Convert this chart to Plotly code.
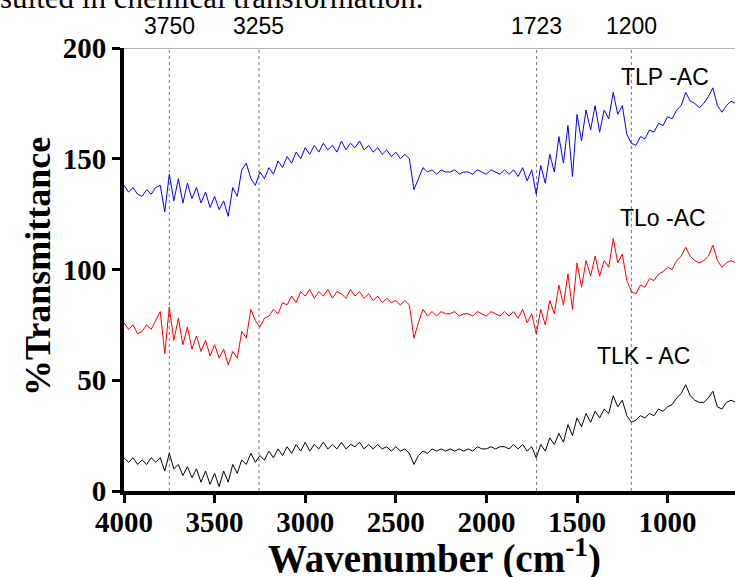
import plotly.graph_objects as go

# Wavenumber grid (cm-1), sampled every 25 cm-1 from 4000 down to 625
WAVENUMBER = list(range(4000, 620, -25))

TLP_AC = [
    138, 135, 137, 134,
    133, 136, 134, 137,
    138, 126, 143, 131,
    141, 130, 139, 132,
    137, 130, 135, 128,
    133, 127, 131, 124,
    137, 133, 145, 148,
    141, 138, 144, 141,
    146, 143, 149, 146,
    151, 148, 153, 150,
    155, 152, 156, 153,
    157, 154, 156, 153,
    158, 154, 157, 155,
    158, 154, 156, 153,
    155, 152, 154, 151,
    153, 150, 152, 150,
    136, 141, 146, 144,
    145, 143, 145, 144,
    144, 145, 143, 144,
    144, 143, 145, 144,
    143, 145, 144, 143,
    145, 143, 145, 142,
    146, 140, 145, 134,
    147, 139, 152, 144,
    160, 148, 165, 142,
    170, 158, 172, 163,
    174, 162, 172, 168,
    180, 170, 174, 161,
    157, 156, 160, 159,
    163, 162, 166, 165,
    169, 168, 172, 174,
    180, 176, 175, 173,
    175, 178, 182, 174,
    171, 174, 176, 175,
]

TLO_AC = [
    76, 73, 75, 71,
    72, 75, 73, 77,
    81, 62, 83, 68,
    78, 66, 74, 64,
    70, 63, 68, 61,
    66, 60, 64, 57,
    63, 60, 72, 69,
    82, 77, 74, 78,
    79, 82, 80, 85,
    84, 88, 85, 90,
    88, 91, 87, 90,
    88, 91, 87, 90,
    89, 87, 91, 88,
    90, 87, 89, 86,
    88, 85, 87, 85,
    86, 84, 86, 84,
    69, 76, 82, 79,
    81, 79, 81, 80,
    80, 81, 79, 80,
    80, 79, 81, 80,
    79, 81, 80, 79,
    81, 79, 81, 78,
    82, 76, 80, 71,
    82, 75, 86, 80,
    93, 84, 98, 82,
    103, 92, 104, 97,
    106, 97, 104, 101,
    114, 103, 107, 95,
    90, 89, 93, 92,
    96, 95, 98, 99,
    101, 100, 104, 106,
    110, 106, 104, 103,
    104, 106, 111, 104,
    101, 103, 104, 103,
]

TLK_AC = [
    15, 13, 15, 12,
    14, 12, 15, 13,
    15, 9, 17, 10,
    12, 7, 11, 6,
    10, 4, 9, 3,
    8, 2, 9, 4,
    12, 8, 14, 12,
    17, 13, 16, 14,
    18, 15, 19, 16,
    20, 17, 21, 18,
    22, 18, 21, 19,
    22, 19, 21, 19,
    22, 19, 21, 20,
    22, 19, 21, 19,
    21, 19, 20, 18,
    20, 18, 19, 17,
    12, 16, 18, 17,
    19, 18, 19, 18,
    19, 18, 19, 18,
    19, 18, 20, 19,
    19, 20, 19, 20,
    20, 19, 21, 19,
    21, 18, 20, 15,
    21, 18, 24, 21,
    26, 22, 30, 25,
    33, 29, 35, 31,
    36, 33, 37, 35,
    43, 38, 41, 34,
    31, 32, 34, 33,
    35, 34, 37, 36,
    38, 39, 42, 44,
    48, 43, 41, 40,
    40, 42, 45, 38,
    37, 40, 41, 40,
]

PEAK_MARKERS = [3750, 3255, 1723, 1200]
SERIES_NAMES = ["TLP -AC", "TLo -AC", "TLK - AC"]
X_TICKS = [4000, 3500, 3000, 2500, 2000, 1500, 1000]
Y_TICKS = [0, 50, 100, 150, 200]

SERIF = "Liberation Serif, Times New Roman, serif"
SANS = "Liberation Sans, Arial, sans-serif"

# layout geometry (pixels)
L, R, T, B = 124, 0, 48, 86
W, H = 735, 577
PW, PH = W - L - R, H - T - B


def px_x(px):
    return (px - L) / PW


def px_y(py):
    return (H - B - py) / PH


fig = go.Figure()
for vals, color in [(TLP_AC, "#0000ff"), (TLO_AC, "#ff0000"), (TLK_AC, "#000000")]:
    fig.add_trace(go.Scatter(x=WAVENUMBER, y=vals, mode="lines",
                             line=dict(color=color, width=1), showlegend=False,
                             hoverinfo="skip"))

# dashed reference lines at marked wavenumbers with labels above the frame
for wn in PEAK_MARKERS:
    fig.add_shape(type="line", x0=wn, x1=wn, y0=0, y1=200, xref="x", yref="y",
                  line=dict(color="#777777", width=1, dash="3px,3px"), layer="below")
    fig.add_annotation(x=wn, y=px_y(26), xref="x", yref="paper",
                       xanchor="center", yanchor="middle",
                       text=str(wn), showarrow=False,
                       font=dict(family=SANS, size=23, color="#000000"))

# top frame line
fig.add_shape(type="line", x0=0, x1=1, y0=200, y1=200, xref="paper", yref="y",
              line=dict(color="#999999", width=1.5))

# series labels (pixel centres)
for name, (cx, cy) in zip(SERIES_NAMES, [(665, 77), (663, 218), (643, 356)]):
    fig.add_annotation(x=px_x(cx), y=px_y(cy), xref="paper", yref="paper", text=name,
                       xanchor="center", yanchor="middle", showarrow=False,
                       font=dict(family=SANS, size=23, color="#000000"))

# axis titles
fig.add_annotation(x=px_x(434), y=px_y(556), xref="paper", yref="paper",
                   xanchor="center", yanchor="middle",
                   text="Wavenumber (cm<sup>-1</sup>)", showarrow=False,
                   font=dict(family=SERIF, size=39, color="#000000", weight="bold"))
fig.add_annotation(x=px_x(38), y=px_y(266), xref="paper", yref="paper",
                   xanchor="center", yanchor="middle",
                   text="%Transmittance", showarrow=False, textangle=-90,
                   font=dict(family=SERIF, size=36, color="#000000", weight="bold"))

# cropped caption line from the source document
fig.add_annotation(x=px_x(-2), y=px_y(-2), xref="paper", yref="paper",
                   xanchor="left", yanchor="middle",
                   text="sulted in chemical transformation.", showarrow=False,
                   font=dict(family=SERIF, size=31, color="#000000"))

axis_common = dict(showgrid=False, zeroline=False, automargin=False,
                   showline=True, linecolor="black", linewidth=4,
                   ticks="outside", ticklen=8, tickwidth=3, tickcolor="black",
                   tickfont=dict(family=SERIF, size=29, color="black", weight="bold"))

fig.update_layout(
    width=W, height=H,
    margin=dict(l=L, r=R, t=T, b=B, autoexpand=False),
    paper_bgcolor="white", plot_bgcolor="white",
    xaxis=dict(range=[4000, 628], tickvals=X_TICKS, ticklabelstandoff=-6, **axis_common),
    yaxis=dict(range=[0, 200], tickvals=Y_TICKS, **axis_common),
)

fig.write_html("out.html",
               config={"displayModeBar": False, "staticPlot": True},
               post_script="document.body.style.margin='0';document.body.style.padding='0';"
                           "document.body.style.overflow='hidden';")
